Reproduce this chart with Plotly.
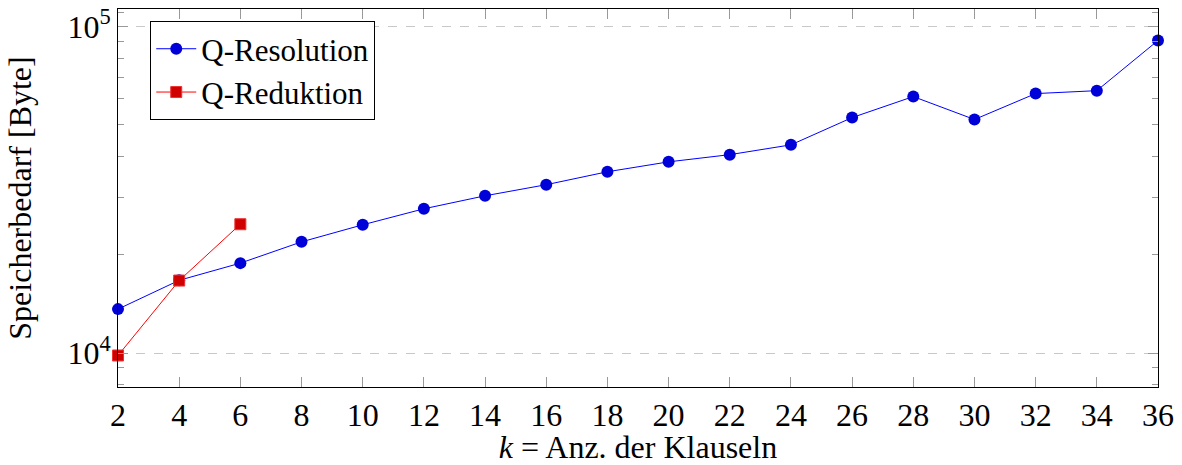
import plotly.graph_objects as go

# Memory usage in bytes over the number of clauses k
k_resolution = [2, 4, 6, 8, 10, 12, 14, 16, 18, 20, 22, 24, 26, 28, 30, 32, 34, 36]
mem_resolution = [13630, 16700, 18850, 21900, 24700, 27650, 30300, 32770, 35900,
                  38500, 40500, 43400, 52600, 61000, 51900, 62300, 63600, 90600]

k_reduction = [2, 4, 6]
mem_reduction = [9830, 16670, 24800]

y_major = [1e4, 1e5]
y_major_text = ["10<sup>4</sup>", "10<sup>5</sup>"]
y_minor = [8e3, 9e3] + [m * 1e4 for m in range(2, 10)] + [1.1e5]

FONT = "Liberation Serif"

fig = go.Figure()
fig.add_trace(go.Scatter(
    x=k_resolution, y=mem_resolution, name="Q-Resolution", mode="lines+markers",
    line=dict(color="#0000ff", width=1),
    marker=dict(symbol="circle", size=12, color="#0000d8", line=dict(width=0)),
    cliponaxis=False,
))
fig.add_trace(go.Scatter(
    x=k_reduction, y=mem_reduction, name="Q-Reduktion", mode="lines+markers",
    line=dict(color="#ff0000", width=1),
    marker=dict(symbol="square", size=11, color="#d00000", line=dict(width=1, color="#ee3333")),
    cliponaxis=False,
))

fig.update_layout(
    width=1182, height=465,
    margin=dict(l=118, r=24, t=9, b=78, autoexpand=False),
    paper_bgcolor="white", plot_bgcolor="white",
    font=dict(family=FONT, color="black"),
    showlegend=True,
    legend=dict(
        x=0.031, y=0.968, xanchor="left", yanchor="top",
        bgcolor="white", bordercolor="black", borderwidth=1,
        font=dict(size=31, family=FONT), tracegroupgap=0,
        itemwidth=40,
    ),
    xaxis=dict(
        range=[2, 36], tickmode="array", tickvals=list(range(2, 37, 2)),
        ticks="inside", ticklen=10, tickcolor="#999999", tickwidth=1,
        showline=True, linecolor="black", linewidth=1, mirror="allticks",
        showgrid=False, zeroline=False, automargin=False,
        tickfont=dict(size=32, family=FONT),
        title=dict(text="<i>k</i> = Anz. der Klauseln", font=dict(size=32, family=FONT), standoff=12),
    ),
    yaxis=dict(
        type="log", range=[3.896, 5.0535],
        tickmode="array", tickvals=y_major, ticktext=y_major_text,
        ticks="inside", ticklen=10, tickcolor="#999999", tickwidth=1,
        showline=True, linecolor="black", linewidth=1, mirror="allticks",
        showgrid=True, gridcolor="#c8c8c8", griddash="dash", gridwidth=1,
        zeroline=False, automargin=False,
        minor=dict(tickvals=y_minor, ticks="inside", ticklen=6, tickcolor="#999999", showgrid=False),
        tickfont=dict(size=32, family=FONT),
        title=dict(text="Speicherbedarf [Byte]", font=dict(size=32, family=FONT), standoff=26),
    ),
)

fig.write_html("out.html")
